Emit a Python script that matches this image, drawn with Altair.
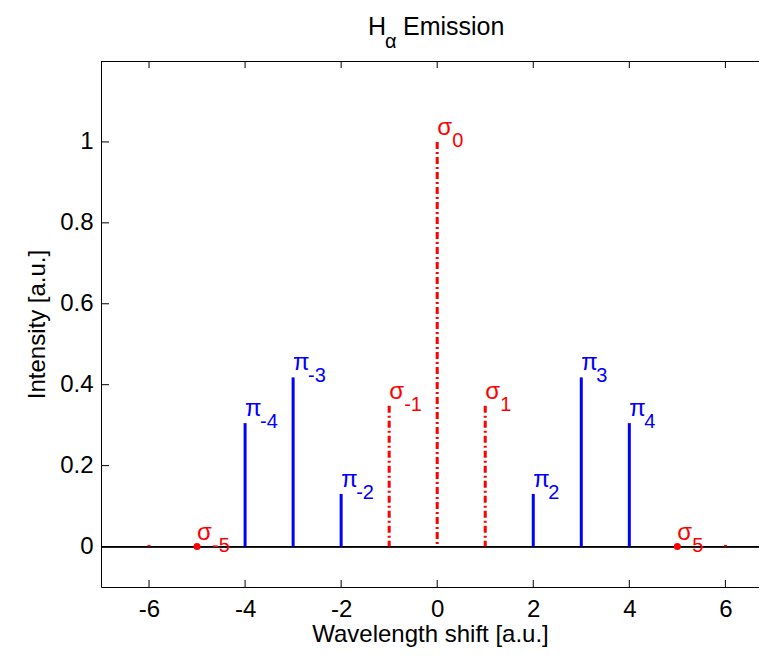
import altair as alt
import pandas as pd

# ---- data ----
pi_x = [-4, -3, -2, 2, 3, 4]
pi_y = [0.305, 0.418, 0.130, 0.130, 0.418, 0.305]

sigma_x = [-6, -1, 0, 1, 6]
sigma_y = [0.004, 0.348, 1.0, 0.348, 0.004]

dot_x = [-5, 5]
dot_y = [0.0, 0.0]

label_letter = ["π", "π", "π", "π", "π", "π", "σ", "σ", "σ", "σ", "σ"]
label_sub = ["-4", "-3", "-2", "2", "3", "4", "-1", "0", "1", "-5", "5"]
label_x = [-4, -3, -2, 2, 3, 4, -1, 0, 1, -5, 5]
label_y = [0.305, 0.418, 0.130, 0.130, 0.418, 0.305, 0.348, 1.0, 0.348, 0.0, 0.0]
label_kind = ["pi"] * 6 + ["sigma"] * 5

x_ticks = [-6, -4, -2, 0, 2, 4, 6]
y_ticks = [0, 0.2, 0.4, 0.6, 0.8, 1]

W, H = 658, 526
FONT = "Liberation Sans"
BLUE = "#0000FF"
RED = "#FF0000"

xs = alt.Scale(domain=[-7, 6.70], nice=False, zero=False)
ys = alt.Scale(domain=[-0.1, 1.2], nice=False, zero=False)

X_AX = alt.Axis(title="Wavelength shift [a.u.]", values=x_ticks,
                labelExpr="'' + datum.value",
                ticks=False, grid=False, domainColor="black", domainWidth=1,
                labelFontSize=24, labelFont=FONT, labelColor="black",
                labelPadding=10, titleFont=FONT, titleFontSize=24,
                titleFontWeight="normal", titleColor="black", titlePadding=1)
Y_AX = alt.Axis(title="Intensity [a.u.]", values=y_ticks, format="~g",
                ticks=False, grid=False, domainColor="black", domainWidth=1,
                labelFontSize=24, labelFont=FONT, labelColor="black",
                labelPadding=8, titleFont=FONT, titleFontSize=24,
                titleFontWeight="normal", titleColor="black", titlePadding=10)


def X(f="x"):
    return alt.X(f"{f}:Q", scale=xs, axis=X_AX)


def Y(f="y"):
    return alt.Y(f"{f}:Q", scale=ys, axis=Y_AX)


pi_df = pd.DataFrame({"x": pi_x, "y": pi_y, "y0": [0.0] * len(pi_x)})
sig_df = pd.DataFrame({"x": sigma_x, "y": sigma_y, "y0": [0.0] * len(sigma_x)})
dot_df = pd.DataFrame({"x": dot_x, "y": dot_y})
lab_df = pd.DataFrame({"x": label_x, "y": label_y, "letter": label_letter,
                       "sub": label_sub, "kind": label_kind})
xt_df = pd.DataFrame({"x": x_ticks, "y": [0.0] * len(x_ticks)})
yt_df = pd.DataFrame({"y": y_ticks, "x": [0.0] * len(y_ticks)})

color_scale = alt.Scale(domain=["pi", "sigma"], range=[BLUE, RED])

# inward ticks
yleft = alt.Chart(yt_df).mark_rule(color="black", strokeWidth=1).encode(
    y=Y(), x=alt.value(0), x2=alt.value(8))
xbottom = alt.Chart(xt_df).mark_rule(color="black", strokeWidth=1).encode(
    x=X(), y=alt.value(H), y2=alt.value(H - 7))
xtop = alt.Chart(xt_df).mark_rule(color="black", strokeWidth=1).encode(
    x=X(), y=alt.value(0), y2=alt.value(7))

top_line = alt.Chart(xt_df).mark_rule(color="black", strokeWidth=1).encode(
    x=alt.value(0), x2=alt.value(W), y=alt.value(0.5))

zero_line = alt.Chart(xt_df).mark_rule(color="black", strokeWidth=1.2).encode(
    y=Y(), x=alt.value(0), x2=alt.value(W))

pi_stems = alt.Chart(pi_df).mark_rule(color=BLUE, strokeWidth=3, strokeCap="butt").encode(
    x=X(), y=Y(), y2="y0:Q")

sig_stems = alt.Chart(sig_df).mark_rule(color=RED, strokeWidth=3, strokeCap="butt",
                                        strokeDash=[7, 3, 2, 3]).encode(
    x=X(), y=Y(), y2="y0:Q")

dots = alt.Chart(dot_df).mark_circle(color=RED, size=50, opacity=1).encode(
    x=X(), y=Y())

letters = alt.Chart(lab_df).mark_text(font=FONT, fontSize=24, align="left",
                                      baseline="alphabetic", dx=0, dy=-7).encode(
    x=X(), y=Y(), text="letter:N",
    color=alt.Color("kind:N", scale=color_scale, legend=None))

subs = alt.Chart(lab_df).mark_text(font=FONT, fontSize=20, align="left",
                                   baseline="alphabetic", dx=15, dy=5).encode(
    x=X(), y=Y(), text="sub:N",
    color=alt.Color("kind:N", scale=color_scale, legend=None))

t_h = alt.Chart(pd.DataFrame({"t": ["H"]})).mark_text(
    font=FONT, fontSize=25, align="left", baseline="alphabetic", color="black").encode(
    x=alt.value(267), y=alt.value(-26), text="t:N")
t_a = alt.Chart(pd.DataFrame({"t": ["α"]})).mark_text(
    font=FONT, fontSize=20, align="left", baseline="alphabetic", color="black").encode(
    x=alt.value(284), y=alt.value(-13), text="t:N")
t_e = alt.Chart(pd.DataFrame({"t": ["Emission"]})).mark_text(
    font=FONT, fontSize=25, align="left", baseline="alphabetic", color="black").encode(
    x=alt.value(302), y=alt.value(-26), text="t:N")

chart = alt.layer(
    yleft, xbottom, xtop, top_line, zero_line,
    pi_stems, sig_stems, dots, letters, subs, t_h, t_a, t_e,
).properties(
    width=W, height=H,
    autosize=alt.AutoSizeParams(type="none"),
    padding={"left": 93, "top": 53, "right": 0, "bottom": 60},
    background="white",
).configure_view(strokeWidth=0, stroke="transparent")

chart.save("out.html", embed_options={"renderer": "svg", "actions": False})
